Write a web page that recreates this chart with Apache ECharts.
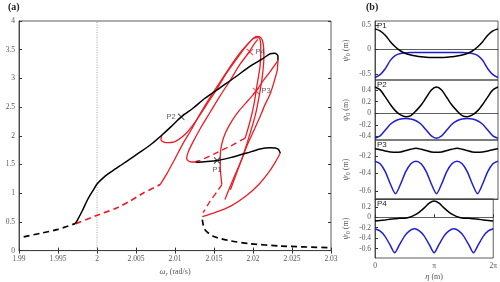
<!DOCTYPE html>
<html>
<head>
<meta charset="utf-8">
<script src="https://cdn.jsdelivr.net/npm/echarts@6/dist/echarts.min.js"></script>
<style>
  html, body {margin: 0; padding: 0; background: #fff;}
  #chart {width: 500px; height: 282px;}
</style>
</head>
<body>
<div id="chart"></div>
<script>
// ---- (a) response branches, points are [omega_r, amplitude] ----
var blackDashLow = [[1.9906, 0.24], [1.9927, 0.30], [1.9950, 0.37], [1.9972, 0.47]];
var blackUpper = [[1.9972, 0.47], [1.9974, 0.51], [1.9981, 0.69], [1.9988, 0.89], [1.9995, 1.05], [2.0000, 1.16],
  [2.0009, 1.28], [2.0019, 1.38], [2.0032, 1.50], [2.0045, 1.62], [2.0058, 1.74], [2.0071, 1.87], [2.0083, 2.01],
  [2.0095, 2.16], [2.0108, 2.33], [2.0123, 2.48], [2.0138, 2.65], [2.0158, 2.84], [2.0177, 3.02], [2.0196, 3.21],
  [2.0212, 3.34], [2.0222, 3.43], [2.0228, 3.44], [2.0232, 3.39], [2.0232, 3.31]];
var blackP1 = [[2.0127, 1.54], [2.0138, 1.55], [2.0154, 1.57], [2.0171, 1.62], [2.0192, 1.70], [2.0209, 1.77],
  [2.0222, 1.79], [2.0232, 1.77], [2.0235, 1.70]];
var blackDashHigh = [[2.0135, 0.54], [2.0138, 0.37], [2.0149, 0.25], [2.0171, 0.17], [2.0196, 0.12], [2.0235, 0.08], [2.0300, 0.05]];

var redDashLow = [[1.9973, 0.47], [2.0001, 0.62], [2.0023, 0.73], [2.0042, 0.86], [2.0059, 1.00], [2.0081, 1.15]];
var redA = [[2.0083, 2.01], [2.0082, 1.93], [2.0088, 1.88], [2.0100, 1.90], [2.0114, 2.04], [2.0127, 2.26],
  [2.0140, 2.53], [2.0153, 2.80], [2.0165, 3.07], [2.0178, 3.32], [2.0190, 3.54], [2.0199, 3.68], [2.0205, 3.73],
  [2.0210, 3.71], [2.0213, 3.61], [2.0214, 3.38], [2.0212, 3.04], [2.0208, 2.70], [2.0203, 2.36], [2.0196, 2.03],
  [2.0188, 1.69], [2.0179, 1.35], [2.0171, 1.06]];
var redB = [[2.0081, 1.15], [2.0090, 1.35], [2.0100, 1.60], [2.0110, 1.86], [2.0121, 2.11], [2.0132, 2.38],
  [2.0145, 2.67], [2.0158, 2.94], [2.0171, 3.21], [2.0183, 3.44], [2.0194, 3.61], [2.0201, 3.70], [2.0206, 3.71],
  [2.0209, 3.68], [2.0210, 3.51], [2.0209, 3.21], [2.0205, 2.87], [2.0201, 2.53], [2.0196, 2.24], [2.0190, 1.96]];
var redBDash = [[2.0190, 1.96], [2.0171, 1.82], [2.0151, 1.69], [2.0132, 1.57], [2.0123, 1.54]];
var redC = [[2.0127, 1.54], [2.0119, 1.55], [2.0115, 1.60], [2.0117, 1.72], [2.0123, 1.89], [2.0133, 2.14],
  [2.0145, 2.41], [2.0158, 2.70], [2.0171, 2.97], [2.0183, 3.24], [2.0194, 3.44], [2.0201, 3.59], [2.0206, 3.68]];
var redD = [[2.0232, 3.31], [2.0222, 3.12], [2.0212, 2.94], [2.0204, 2.78], [2.0194, 2.62], [2.0183, 2.45],
  [2.0173, 2.26], [2.0165, 2.06], [2.0160, 1.86], [2.0158, 1.65], [2.0158, 1.45], [2.0159, 1.28], [2.0160, 1.15]];
var redDDash = [[2.0160, 1.15], [2.0154, 1.03], [2.0145, 0.86], [2.0136, 0.66]];
var redF = [[2.0232, 3.31], [2.0231, 3.14], [2.0227, 2.94], [2.0222, 2.73], [2.0215, 2.53], [2.0208, 2.30],
  [2.0200, 2.06], [2.0192, 1.82], [2.0185, 1.57], [2.0177, 1.32], [2.0169, 1.06], [2.0164, 0.89]];
var redG = [[2.0235, 1.70], [2.0229, 1.55], [2.0221, 1.38], [2.0208, 1.16], [2.0191, 0.95], [2.0172, 0.78],
  [2.0151, 0.66], [2.0135, 0.59]];
var freqLine = [[2, 0], [2, 4]];

var pointNames = ['P1', 'P2', 'P3', 'P4'];
var pointValues = [[2.0154, 1.57], [2.0108, 2.33], [2.0204, 2.78], [2.0196, 3.46]];

// ---- (b) mode shapes over eta, [0, 2pi] ----
var eta = [0, 0.262, 0.524, 0.785, 1.047, 1.309, 1.571, 1.833, 2.094, 2.356, 2.618, 2.880, 3.142,
  3.403, 3.665, 3.927, 4.189, 4.451, 4.712, 4.974, 5.236, 5.498, 5.760, 6.021, 6.283];
var p1Black = [0.42, 0.38, 0.29, 0.16, 0.05, -0.03, -0.08, -0.11, -0.13, -0.145, -0.155, -0.16, -0.16,
  -0.16, -0.155, -0.145, -0.13, -0.11, -0.08, -0.03, 0.05, 0.16, 0.29, 0.38, 0.42];
var p1Blue = [-0.57, -0.51, -0.39, -0.22, -0.12, -0.08, -0.07, -0.06, -0.06, -0.06, -0.06, -0.06, -0.06,
  -0.06, -0.06, -0.06, -0.06, -0.06, -0.07, -0.08, -0.12, -0.22, -0.39, -0.51, -0.57];
var p2Black = [0.45, 0.40, 0.28, 0.15, 0.04, -0.03, -0.06, -0.04, 0.04, 0.14, 0.27, 0.40, 0.45,
  0.40, 0.27, 0.14, 0.04, -0.04, -0.06, -0.03, 0.04, 0.15, 0.28, 0.40, 0.45];
var p2Blue = [-0.43, -0.39, -0.29, -0.19, -0.13, -0.10, -0.09, -0.10, -0.13, -0.19, -0.29, -0.39, -0.43,
  -0.39, -0.29, -0.19, -0.13, -0.10, -0.09, -0.10, -0.13, -0.19, -0.29, -0.39, -0.43];
var p3Black = [-0.12, -0.13, -0.145, -0.155, -0.16, -0.155, -0.14, -0.125, -0.115, -0.125, -0.14, -0.155, -0.16,
  -0.155, -0.14, -0.125, -0.115, -0.125, -0.14, -0.155, -0.16, -0.155, -0.145, -0.13, -0.12];
var p3Blue = [-0.26, -0.29, -0.38, -0.52, -0.63, -0.52, -0.38, -0.29, -0.26, -0.29, -0.38, -0.52, -0.63,
  -0.52, -0.38, -0.29, -0.26, -0.29, -0.38, -0.52, -0.63, -0.52, -0.38, -0.29, -0.26];
var p4Black = [-0.07, -0.06, -0.05, -0.04, -0.03, -0.02, -0.02, 0.0, 0.04, 0.10, 0.18, 0.27, 0.31,
  0.27, 0.18, 0.10, 0.04, 0.0, -0.02, -0.02, -0.03, -0.04, -0.05, -0.06, -0.07];
var p4Blue = [-0.22, -0.26, -0.36, -0.52, -0.68, -0.52, -0.36, -0.26, -0.22, -0.26, -0.36, -0.52, -0.68,
  -0.52, -0.36, -0.26, -0.22, -0.26, -0.36, -0.52, -0.68, -0.52, -0.36, -0.26, -0.22];

var panelTicks = [[-0.5, 0, 0.5], [-0.4, -0.2, 0, 0.2, 0.4], [-0.6, -0.4, -0.2], [-0.6, -0.4, -0.2, 0, 0.2]];
var panelRange = [[-0.62, 0.58], [-0.46, 0.57], [-0.69, -0.02], [-0.78, 0.35]];
var etaTickLabels = ['0', 'π', '2π'];

var chart = echarts.init(document.getElementById('chart'));

var serif = 'Liberation Serif';
var tickColor = '#555';
var RED = '#ee1c24';
var BLUE = '#1f1fd6';

function zip(xs, ys) {
  return xs.map(function (x, i) { return [x, ys[i]]; });
}

var grids = [{left: 19, top: 21, width: 312, height: 237, show: true, borderColor: '#333', borderWidth: 0.8}];
var panelTop = [21, 80, 140, 199];
var panelH = [59, 60, 59, 59];
panelTop.forEach(function (t, i) {
  grids.push({left: 375, top: t, width: 123, height: panelH[i], show: true, borderColor: '#333', borderWidth: 0.8});
});

var xAxes = [
  {type: 'value', gridIndex: 0, min: 1.99, max: 2.03, interval: 0.005,
    axisLine: {lineStyle: {color: '#333', width: 0.8}},
    axisTick: {inside: true, length: 3, lineStyle: {color: '#333'}},
    splitLine: {show: false},
    axisLabel: {fontFamily: serif, fontSize: 7.5, color: tickColor, margin: 4,
      formatter: function (v) { return String(parseFloat(v.toFixed(3))); }},
    name: '{w|ω}{s|r} (rad/s)', nameLocation: 'middle', nameGap: 15,
    nameTextStyle: {fontFamily: serif, fontSize: 8, color: tickColor,
      rich: {w: {fontFamily: serif, fontStyle: 'italic', fontSize: 8.5, color: tickColor},
        s: {fontFamily: serif, fontStyle: 'italic', fontSize: 6, color: tickColor, verticalAlign: 'bottom', padding: [4, 0, 0, 0]}}}},
  {type: 'value', gridIndex: 0, min: 1.99, max: 2.03, interval: 0.005, position: 'top',
    axisLine: {show: false}, axisTick: {inside: true, length: 3, lineStyle: {color: '#333'}},
    axisLabel: {show: false}, splitLine: {show: false}}
];
var yAxes = [
  {type: 'value', gridIndex: 0, min: 0, max: 4, interval: 0.5,
    axisLine: {show: true, lineStyle: {color: '#333', width: 0.8}},
    axisTick: {show: true, inside: true, length: 3, lineStyle: {color: '#333'}},
    splitLine: {show: false},
    axisLabel: {fontFamily: serif, fontSize: 7.5, color: tickColor, margin: 4}},
  {type: 'value', gridIndex: 0, min: 0, max: 4, interval: 0.5, position: 'right',
    axisLine: {show: false}, axisTick: {show: true, inside: true, length: 3, lineStyle: {color: '#333'}},
    axisLabel: {show: false}, splitLine: {show: false}}
];

panelTop.forEach(function (t, i) {
  var last = i === panelTop.length - 1;
  xAxes.push({type: 'value', gridIndex: i + 1, min: 0, max: 6.283, interval: 3.1415,
    axisLine: {lineStyle: {color: '#333', width: 0.8}},
    axisTick: {show: last, inside: true, length: 3, lineStyle: {color: '#333'}},
    splitLine: {show: false},
    axisLabel: {show: last, fontFamily: serif, fontSize: 7.5, color: tickColor, margin: 4,
      formatter: function (v) { return etaTickLabels[Math.round(v / 3.1415)]; }},
    name: last ? '{e|η} (m)' : '', nameLocation: 'middle', nameGap: 14,
    nameTextStyle: {fontFamily: serif, fontSize: 8, color: tickColor,
      rich: {e: {fontFamily: serif, fontStyle: 'italic', fontSize: 8.5, color: tickColor}}}});
  yAxes.push({type: 'value', gridIndex: i + 1, min: panelRange[i][0], max: panelRange[i][1],
    axisLine: {show: true, lineStyle: {color: '#333', width: 0.8}},
    axisTick: {show: true, inside: true, length: 3, customValues: panelTicks[i], lineStyle: {color: '#333'}},
    splitLine: {show: false},
    axisLabel: {fontFamily: serif, fontSize: 7.5, color: tickColor, margin: 4, customValues: panelTicks[i]},
    name: '{p|ψ}{s|0} (m)', nameLocation: 'middle', nameRotate: 90, nameGap: 24,
    nameTextStyle: {fontFamily: serif, fontSize: 8, color: tickColor,
      rich: {p: {fontFamily: serif, fontStyle: 'italic', fontSize: 8.5, color: tickColor},
        s: {fontFamily: serif, fontSize: 6, color: tickColor, padding: [4, 0, 0, 0]}}}});
});

function line(data, color, dashed, width, xi, yi) {
  return {type: 'line', data: data, xAxisIndex: xi || 0, yAxisIndex: yi || 0, showSymbol: false, symbol: 'none',
    smooth: 0.25, silent: true, z: color === RED ? 3 : 4,
    lineStyle: {color: color, width: width || 1.3, type: dashed ? [6, 4] : 'solid'}};
}

var cross = 'path://M0,1L1,0L5,4L9,0L10,1L6,5L10,9L9,10L5,6L1,10L0,9L4,5Z';
var labelPos = ['bottom', 'left', 'right', 'right'];
var markColor = ['#111', '#111', RED, RED];

var series = [
  {type: 'line', data: freqLine, showSymbol: false, silent: true,
    lineStyle: {color: '#888', width: 0.8, type: [1, 1.5]}},
  line(redDashLow, RED, true, 1.7),
  line(redA, RED), line(redB, RED), line(redBDash, RED, true, 1.4), line(redC, RED),
  line(redD, RED), line(redDDash, RED, true, 1.4), line(redF, RED), line(redG, RED),
  line(blackDashLow, '#000', true, 1.7), line(blackUpper, '#000', false, 1.5),
  line(blackP1, '#000', false, 1.5), line(blackDashHigh, '#000', true, 1.7),
  {type: 'scatter', symbol: cross, symbolSize: 7, z: 6, silent: true,
    data: pointValues.map(function (v, i) {
      return {value: v, name: pointNames[i], itemStyle: {color: markColor[i]},
        label: {show: true, position: labelPos[i], distance: 2, formatter: '{b}',
          fontFamily: 'Liberation Sans', fontSize: 7.5, color: '#333'}};
    })}
];

var shapes = [[p1Black, p1Blue], [p2Black, p2Blue], [p3Black, p3Blue], [p4Black, p4Blue]];
shapes.forEach(function (pair, i) {
  series.push(line(zip(eta, pair[1]), BLUE, false, 1.5, i + 2, i + 2));
  series.push(line(zip(eta, pair[0]), '#000', false, 1.5, i + 2, i + 2));
});

var graphics = [
  {type: 'text', left: 8, top: 2, style: {text: '(a)', font: 'bold 10px "Liberation Serif"', fill: '#222'}},
  {type: 'text', left: 366, top: 2, style: {text: '(b)', font: 'bold 10px "Liberation Serif"', fill: '#222'}}
];
pointNames.forEach(function (n, i) {
  graphics.push({type: 'text', left: 377, top: panelTop[i] + 1,
    style: {text: n, font: '8px "Liberation Sans"', fill: '#222'}});
});

chart.setOption({
  animation: false,
  grid: grids,
  xAxis: xAxes,
  yAxis: yAxes,
  series: series,
  graphic: graphics
});
</script>
</body>
</html>
